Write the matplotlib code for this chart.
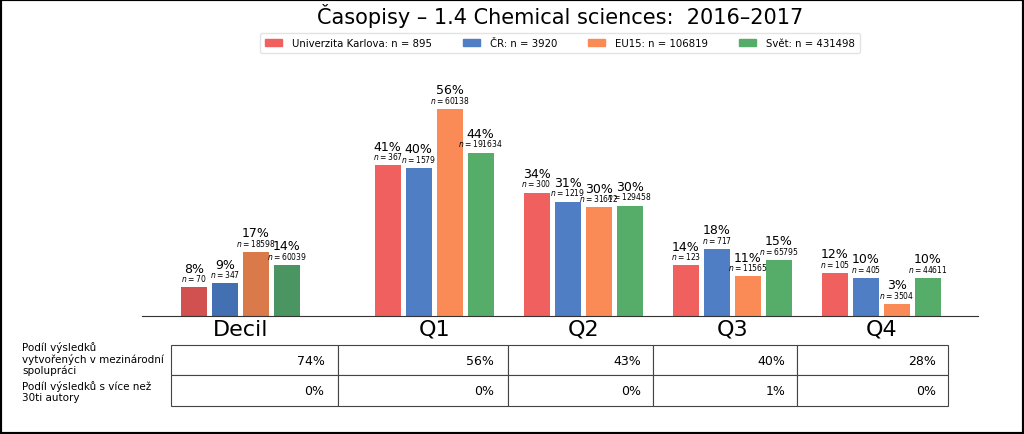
import matplotlib
matplotlib.use("Agg")
import matplotlib.pyplot as plt
from matplotlib.patches import Patch, Rectangle

# data
categories = ["Decil", "Q1", "Q2", "Q3", "Q4"]
positions = [0, 1.3, 2.3, 3.3, 4.3]
series = ["Univerzita Karlova", "ČR", "EU15", "Svět"]
totals = [895, 3920, 106819, 431498]
counts = [
    [70, 367, 300, 123, 105],          # Univerzita Karlova
    [347, 1579, 1219, 717, 405],       # ČR
    [18598, 60138, 31612, 11565, 3504],  # EU15
    [60039, 191634, 129458, 65795, 44611],  # Svět
]
colors = ["#f0605f", "#4f7ec4", "#fb8b56", "#55ad69"]
decil_colors = ["#d15050", "#4270b2", "#da7a4b", "#4a9562"]

row_labels = ["Podíl výsledků\nvytvořených v mezinárodní\nspolupráci",
              "Podíl výsledků s více než\n30ti autory"]
intl_collab = ["74%", "56%", "43%", "40%", "28%"]
many_authors = ["0%", "0%", "0%", "1%", "0%"]

fig = plt.figure(figsize=(10.24, 4.35), dpi=100)
ax = fig.add_axes([142 / 1024, 118 / 435, 836 / 1024, 257.6 / 435])

width = 0.175
step = 0.208
for s in range(len(series)):
    shares = [c / totals[s] for c in counts[s]]
    xs = [p + (s - 1.5) * step for p in positions]
    cols = [decil_colors[s]] + [colors[s]] * (len(categories) - 1)
    bars = ax.bar(xs, shares, width, color=cols)
    for b, v, n in zip(bars, shares, counts[s]):
        cx = b.get_x() + b.get_width() / 2
        ax.annotate(f"$n = {n}$", (cx, v), xytext=(0, 3), textcoords="offset points",
                    ha="center", va="bottom", fontsize=5.5)
        ax.annotate(f"{v * 100:.0f}%", (cx, v), xytext=(0, 9), textcoords="offset points",
                    ha="center", va="bottom", fontsize=9)

ax.set_xlim(-0.66, 4.95)
ax.set_ylim(0, 0.70)
ax.set_xticks(positions)
ax.set_xticklabels(categories, fontsize=16)
ax.tick_params(axis="x", length=0, pad=2)
ax.set_yticks([])
for sp in ["top", "right", "left"]:
    ax.spines[sp].set_visible(False)
ax.spines["bottom"].set_color("#333333")

handles = [Patch(color=c) for c in colors]
labels = [f"{s}: n = {t}" for s, t in zip(series, totals)]
ax.legend(handles, labels, loc="lower center", bbox_to_anchor=(0.5, 1.0), ncol=4,
          fontsize=7.3, frameon=True, edgecolor="#dddddd", handlelength=1.7,
          handleheight=0.7, handletextpad=1.0, columnspacing=3.0, borderpad=0.5)

fig.text(560 / 1024, 1 - 16 / 435, "Časopisy – 1.4 Chemical sciences:  2016–2017",
         ha="center", va="center", fontsize=15)

col_widths = [167, 170, 145, 144, 152]
tw = sum(col_widths)
tbl = ax.table(cellText=[intl_collab, many_authors], cellLoc="right",
               colWidths=[w / tw for w in col_widths],
               bbox=[0.0347, -0.349, 0.930, 0.237])
tbl.auto_set_font_size(False)
tbl.set_fontsize(9)
for cell in tbl.get_celld().values():
    cell.set_edgecolor("#444444")
    cell.set_linewidth(0.8)
    cell.PAD = 0.08

fig.text(22 / 1024, 1 - 342 / 435, row_labels[0], ha="left", va="top",
         fontsize=7.5, linespacing=1.1)
fig.text(22 / 1024, 1 - 381 / 435, row_labels[1], ha="left", va="top",
         fontsize=7.5, linespacing=1.1)

fig.patches.append(Rectangle((0, 0), 1, 1, transform=fig.transFigure, fill=False,
                             edgecolor="black", linewidth=3))

fig.savefig("out.png", dpi=100)
